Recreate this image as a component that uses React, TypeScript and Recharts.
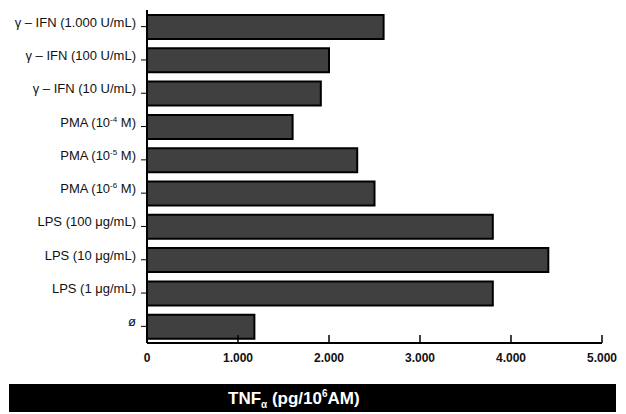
import { BarChart, Bar, XAxis, YAxis } from 'recharts'

const categories = [
  'γ – IFN (1.000 U/mL)',
  'γ – IFN (100 U/mL)',
  'γ – IFN (10 U/mL)',
  'PMA (10^-4 M)',
  'PMA (10^-5 M)',
  'PMA (10^-6 M)',
  'LPS (100 μg/mL)',
  'LPS (10 μg/mL)',
  'LPS (1 μg/mL)',
  'ø',
]
const tnfValues = [2600, 2000, 1910, 1600, 2310, 2500, 3800, 4410, 3800, 1180]
const xTicks = [0, 1000, 2000, 3000, 4000, 5000]

const data = categories.map((name, i) => ({ name, value: tnfValues[i] }))

const font = '"Liberation Sans", Arial, sans-serif'

function fmt(v: number) {
  return v === 0 ? '0' : v.toLocaleString('de-DE', { minimumFractionDigits: 0 })
}

function YTick(props: any) {
  const { x, y, payload } = props
  const parts = String(payload.value).split(/\^(\S+)/)
  return (
    <text x={x} y={y} dy={4} textAnchor="end" fontFamily={font} fontSize={13} fill="#111">
      {parts.map((p, i) =>
        i % 2 === 1 ? (
          <tspan key={i} dy={-5} fontSize={8}>
            {p}
          </tspan>
        ) : (
          <tspan key={i} dy={i > 0 ? 5 : 0}>
            {p}
          </tspan>
        )
      )}
    </text>
  )
}

function XTick(props: any) {
  const { x, y, payload } = props
  return (
    <g>
      <line x1={x} x2={x} y1={y} y2={y - 8} stroke="#000" strokeWidth={1.5} />
      <text x={x} y={y + 19} textAnchor="middle" fontFamily={font} fontSize={12} fontWeight="bold" fill="#111">
        {fmt(payload.value)}
      </text>
    </g>
  )
}

export default function App() {
  return (
    <div style={{ position: 'absolute', left: 0, top: 0, width: 626, height: 414, background: '#fff' }}>
      <BarChart
        width={626}
        height={414}
        data={data}
        layout="vertical"
        margin={{ top: 10, right: 24, left: 0, bottom: 41 }}
        barCategoryGap={0}
      >
        <XAxis
          type="number"
          domain={[0, 5000]}
          ticks={xTicks}
          height={30}
          tickSize={0}
          tickMargin={0}
          tick={<XTick />}
          axisLine={{ stroke: '#000', strokeWidth: 2 }}
          interval={0}
        />
        <YAxis
          type="category"
          dataKey="name"
          width={147}
          tickSize={6}
          tickMargin={5}
          tick={<YTick />}
          tickLine={{ stroke: '#000' }}
          axisLine={{ stroke: '#000', strokeWidth: 2 }}
          interval={0}
        />
        <Bar dataKey="value" barSize={24} fill="#404040" stroke="#000" strokeWidth={2} isAnimationActive={false} />
      </BarChart>
      <div
        style={{
          position: 'absolute',
          left: 9,
          top: 384,
          width: 607,
          height: 28,
          background: '#000',
          color: '#fff',
          fontFamily: '"Liberation Sans Narrow", "Liberation Sans", Arial, sans-serif',
          fontWeight: 'bold',
          fontSize: 17,
          lineHeight: '28px',
          whiteSpace: 'nowrap',
          overflow: 'hidden',
        }}
      >
        <span style={{ position: 'absolute', left: 219, top: 1 }}>
          TNF<sub style={{ fontSize: 10, lineHeight: 0 }}>α</sub> (pg/10<sup style={{ fontSize: 10, lineHeight: 0 }}>6</sup>AM)
        </span>
      </div>
    </div>
  )
}
